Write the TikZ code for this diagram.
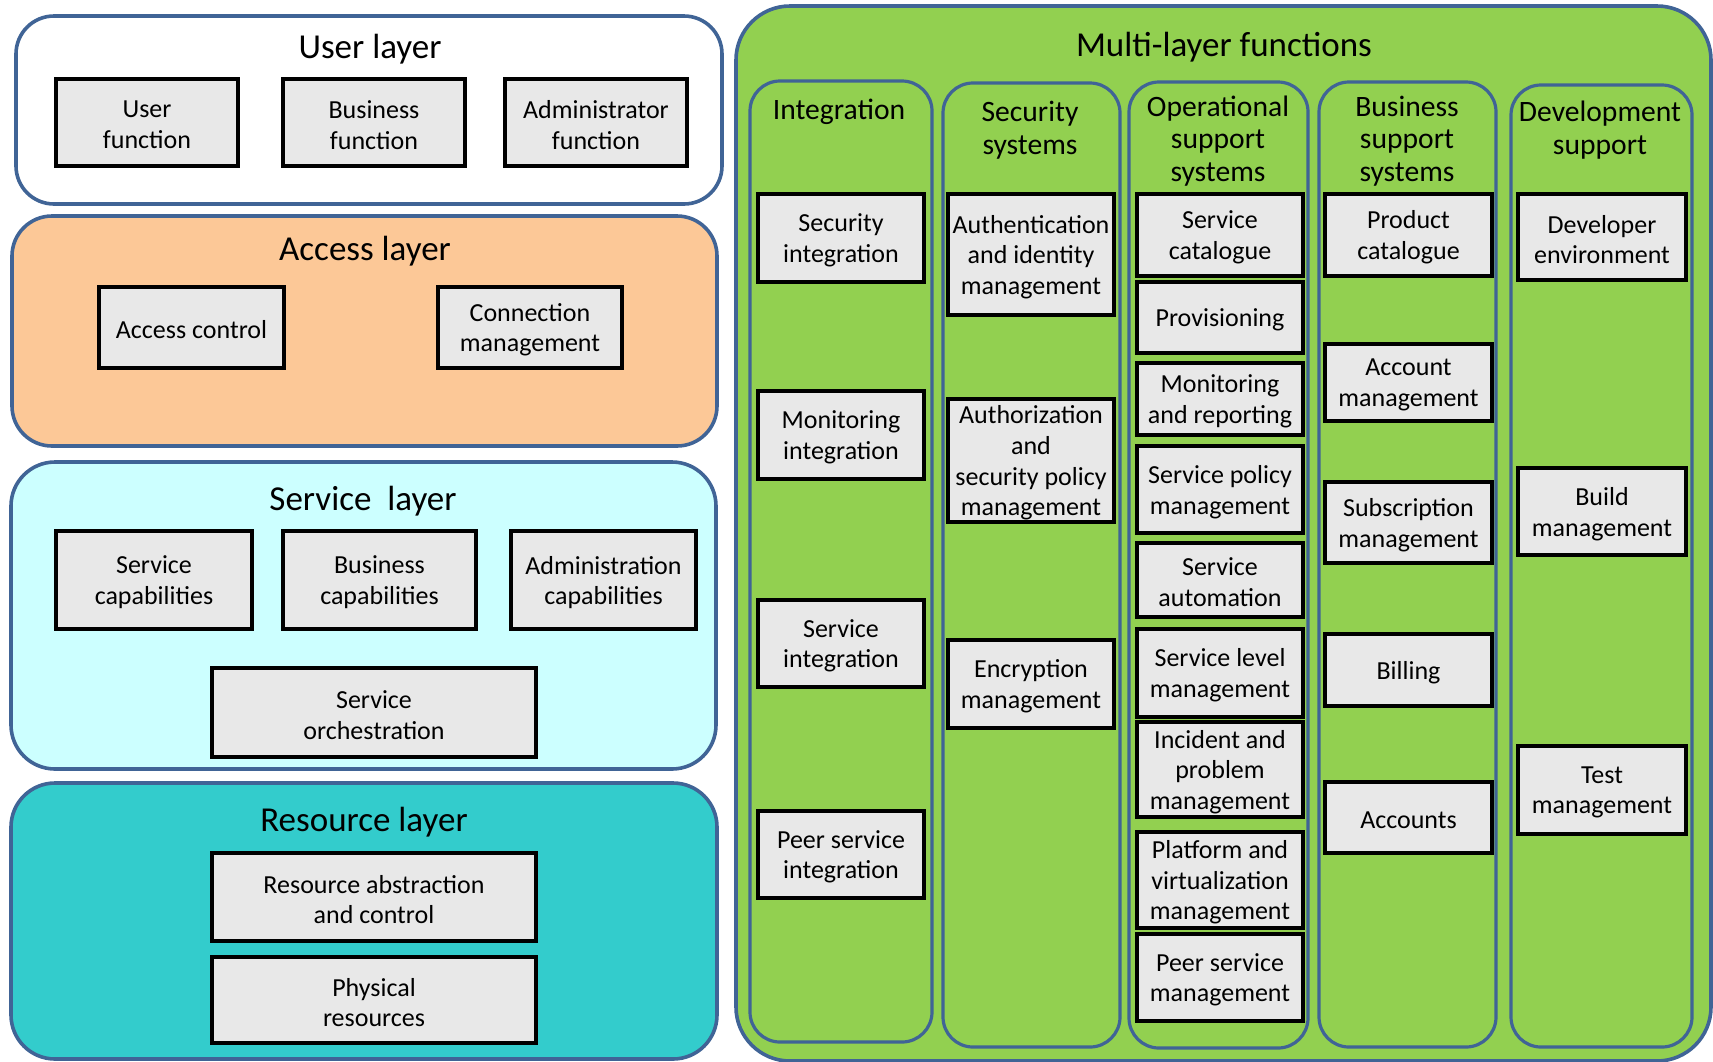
\documentclass[tikz,border=0pt]{standalone}
\usepackage{fontspec}
\setmainfont{Carlito}
\definecolor{bord}{RGB}{64,100,150}
\definecolor{peach}{RGB}{252,200,151}
\definecolor{paleblue}{RGB}{204,255,255}
\definecolor{teal}{RGB}{51,204,204}
\definecolor{lgreen}{RGB}{146,208,80}
\definecolor{boxgray}{RGB}{232,232,232}
\tikzset{
  layer/.style={draw=bord, line width=1.8pt},
  col/.style={draw=bord, line width=1.6pt, fill=lgreen, rounded corners=15pt},
  ibox/.style={draw=black, line width=1.6pt, fill=boxgray, inner sep=0pt},
  ibtext/.style={inner sep=0pt, align=center, yshift=-1.2pt,
    font=\fontsize{13pt}{15.3pt}\selectfont},
  ltitle/.style={inner sep=0pt, font=\fontsize{17.5pt}{20pt}\selectfont},
  ctitle/.style={inner sep=0pt, align=center, font=\fontsize{14.8pt}{16.4pt}\selectfont}
}
\newcommand\bx[6]{%
  \pgfmathsetmacro\bw{(#4-#2)*0.5}%
  \pgfmathsetmacro\bh{(#5-#3)*0.5}%
  \pgfmathsetmacro\bcx{(#2+#4)/2}%
  \pgfmathsetmacro\bcy{(#3+#5)/2}%
  \node[ibox, minimum width=\bw pt, minimum height=\bh pt,
    label={[ibtext]center:#6}] (#1) at (\bcx,\bcy) {};}
\begin{document}
\begin{tikzpicture}[x=0.5pt,y=-0.5pt]
\useasboundingbox (0,0) rectangle (1713,1061);
% left layers
\draw[layer, fill=white, rounded corners=19pt] (16,16) rectangle (722,204);
\draw[layer, fill=peach, rounded corners=20pt] (12,216) rectangle (717,446);
\draw[layer, fill=paleblue, rounded corners=22pt] (11,462) rectangle (716,769);
\draw[layer, fill=teal, rounded corners=22pt] (11,783) rectangle (717,1059);
\node[ltitle] (tuser) at (370,49) {User layer};
\node[ltitle] (taccess) at (365,251) {Access layer};
\node[ltitle] (tservice) at (363,501) {Service\ \ layer};
\node[ltitle] (tresource) at (364,822) {Resource layer};
\bx{uf}{56}{79}{238}{166}{User\\function}
\bx{bf}{283}{79}{465}{166}{Business\\function}
\bx{af}{505}{79}{687}{166}{Administrator\\function}
\bx{ac}{99}{287}{284}{368}{Access control}
\bx{cm}{438}{287}{622}{368}{Connection\\management}
\bx{sc}{56}{531}{252}{629}{Service\\capabilities}
\bx{bc}{283}{531}{476}{629}{Business\\capabilities}
\bx{adc}{511}{531}{696}{629}{Administration\\capabilities}
\bx{so}{212}{668}{536}{757}{Service\\orchestration}
\bx{rac}{212}{853}{536}{941}{Resource abstraction\\and control}
\bx{pr}{212}{957}{536}{1043}{Physical\\resources}
% multi-layer
\draw[layer, fill=lgreen, rounded corners=27pt] (736,6) rectangle (1711,1061);
\node[ltitle] (tmulti) at (1224,47) {Multi-layer functions};
\draw[col] (750,81) rectangle (932,1042);
\draw[col] (943,83) rectangle (1120,1047);
\draw[col] (1129,82) rectangle (1308,1048);
\draw[col] (1319,82) rectangle (1496,1047);
\draw[col] (1511,85) rectangle (1692,1047);
\node[ctitle] (tint) at (839,112) {Integration};
\node[ctitle] (tsec) at (1030,130) {Security\\systems};
\node[ctitle] (tops) at (1218,141) {Operational\\support\\systems};
\node[ctitle] (tbss) at (1407,141) {Business\\support\\systems};
\node[ctitle] (tdev) at (1600,130) {Development\\support};
% integration
\bx{si}{758}{194}{924}{282}{Security\\integration}
\bx{mi}{758}{391}{924}{479}{Monitoring\\integration}
\bx{svi}{758}{600}{924}{687}{Service\\integration}
\bx{psi}{758}{811}{924}{898}{Peer service\\integration}
% security
\bx{aim}{948}{194}{1114}{315}{Authentication\\and identity\\management}
\bx{aspm}{948}{399}{1114}{522}{Authorization\\and\\security policy\\management}
\bx{em}{948}{640}{1114}{728}{Encryption\\management}
% operational
\bx{scat}{1137}{194}{1303}{276}{Service\\catalogue}
\bx{prov}{1137}{282}{1303}{353}{Provisioning}
\bx{mar}{1137}{363}{1303}{435}{Monitoring\\and reporting}
\bx{spm}{1137}{446}{1303}{533}{Service policy\\management}
\bx{sa}{1137}{543}{1303}{617}{Service\\automation}
\bx{slm}{1137}{629}{1303}{717}{Service level\\management}
\bx{ipm}{1137}{722}{1303}{817}{Incident and\\problem\\management}
\bx{pvm}{1137}{832}{1303}{928}{Platform and\\virtualization\\management}
\bx{psm}{1137}{934}{1303}{1021}{Peer service\\management}
% business
\bx{pc}{1325}{194}{1492}{276}{Product\\catalogue}
\bx{am}{1325}{344}{1492}{421}{Account\\management}
\bx{sm}{1325}{482}{1492}{563}{Subscription\\management}
\bx{bil}{1325}{634}{1492}{706}{Billing}
\bx{acc}{1325}{782}{1492}{853}{Accounts}
% development
\bx{de}{1518}{194}{1686}{280}{Developer\\environment}
\bx{bm}{1518}{468}{1686}{555}{Build\\management}
\bx{tm}{1518}{746}{1686}{834}{Test\\management}
\end{tikzpicture}
\end{document}
